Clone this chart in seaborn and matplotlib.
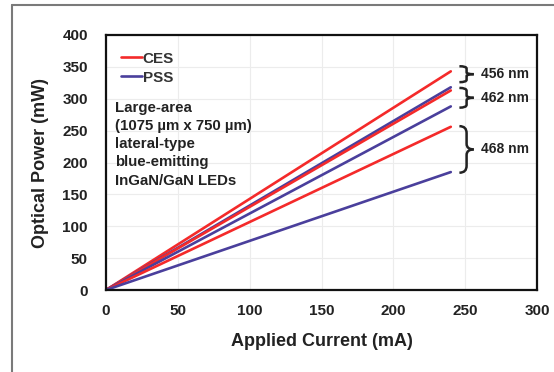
import numpy as np
import pandas as pd
import seaborn as sns
import matplotlib.pyplot as plt
from matplotlib.lines import Line2D
from matplotlib.path import Path
from matplotlib.patches import PathPatch

# ---- data ----
current = [0, 240]
series_names = ["CES 456", "PSS 456", "CES 462", "PSS 462", "CES 468", "PSS 468"]
substrate = ["CES", "PSS", "CES", "PSS", "CES", "PSS"]
power_end = [343, 318, 313, 288, 256, 185]
power_start = [0, 0, 0, 0, 0, 0]

wavelength_labels = ["456 nm", "462 nm", "468 nm"]
brace_top = [351, 317, 257]
brace_bot = [326, 286, 184]

x_ticks = [0, 50, 100, 150, 200, 250, 300]
y_ticks = [0, 50, 100, 150, 200, 250, 300, 350, 400]

rows = []
for name, sub, p0, p1 in zip(series_names, substrate, power_start, power_end):
    rows.append({"series": name, "substrate": sub, "current": current[0], "power": p0})
    rows.append({"series": name, "substrate": sub, "current": current[1], "power": p1})
df = pd.DataFrame(rows)

RED = "#f42a2a"
BLUE = "#4a3f9c"
palette = {n: (RED if s == "CES" else BLUE) for n, s in zip(series_names, substrate)}

sns.set_theme(style="white")
plt.rcParams['font.family'] = ['Liberation Sans', 'DejaVu Sans']
plt.rcParams['font.weight'] = 'bold'

fig = plt.figure(figsize=(5.54, 3.72), dpi=100)
ax = fig.add_axes([106/554, (372-290)/372, (537-106)/554, (290-35)/372])

sns.lineplot(data=df, x="current", y="power", hue="series", palette=palette,
             linewidth=1.9, legend=False, ax=ax, sort=False)

ax.set_xlim(0, 300)
ax.set_ylim(0, 400)
ax.set_xticks(x_ticks)
ax.set_yticks(y_ticks)
ax.set_xticklabels([str(t) for t in x_ticks], fontsize=11, fontweight='bold', color='#222222')
ax.set_yticklabels([str(t) for t in y_ticks], fontsize=11, fontweight='bold', color='#222222')
ax.tick_params(axis='x', length=0, pad=10)
ax.tick_params(axis='y', length=0, pad=13)
ax.grid(True, color='#ececec', linewidth=0.8)
for s in ax.spines.values():
    s.set_color('#111111')
    s.set_linewidth(1.6)

ax.set_xlabel("Applied Current (mA)", fontsize=13, fontweight='bold', color='#222222', labelpad=11)
ax.set_ylabel("Optical Power (mW)", fontsize=13, fontweight='bold', color='#222222', labelpad=10)

handles = [Line2D([0], [0], color=RED, lw=1.9), Line2D([0], [0], color=BLUE, lw=1.9)]
leg = ax.legend(handles, ["CES", "PSS"], loc='upper left', bbox_to_anchor=(-0.005, 1.0),
                frameon=False, fontsize=11, handlelength=1.4, handletextpad=0.05,
                labelspacing=0.32, borderaxespad=0.7)
for t in leg.get_texts():
    t.set_color('#333333')
    t.set_fontweight('bold')

ax.text(0.022, 0.742, "Large-area\n(1075 µm x 750 µm)\nlateral-type\nblue-emitting\nInGaN/GaN LEDs",
        transform=ax.transAxes, fontsize=10.8, fontweight='bold', color='#222222',
        va='top', ha='left', linespacing=1.38)

# braces
def brace(ax, x, y0, y1, w, color='#222222'):
    ym = (y0 + y1) / 2
    h = (y1 - y0)
    top = Path([(x, y1), (x + w*0.5, y1), (x + w*0.5, y1 - h*0.15),
                (x + w*0.5, ym + h*0.12), (x + w*0.5, ym), (x + w, ym)],
               [Path.MOVETO, Path.CURVE3, Path.CURVE3, Path.LINETO, Path.CURVE3, Path.CURVE3])
    bot = Path([(x, y0), (x + w*0.5, y0), (x + w*0.5, y0 + h*0.15),
                (x + w*0.5, ym - h*0.12), (x + w*0.5, ym), (x + w, ym)],
               [Path.MOVETO, Path.CURVE3, Path.CURVE3, Path.LINETO, Path.CURVE3, Path.CURVE3])
    for p in (top, bot):
        ax.add_patch(PathPatch(p, fill=False, edgecolor=color, lw=1.8, clip_on=False))
    return ym

for lab, yt, yb in zip(wavelength_labels, brace_top, brace_bot):
    ym = brace(ax, 246, yb, yt, 10)
    ax.text(261, ym, lab, fontsize=10, fontweight='bold', color='#222222',
            va='center', ha='left')

# outer frame lines
fig.add_artist(Line2D([12/554, 1.0], [1 - 5/372, 1 - 5/372], color='#7a7a7a', lw=1.5, transform=fig.transFigure))
fig.add_artist(Line2D([12/554, 12/554], [0, 1 - 5/372], color='#7a7a7a', lw=1.5, transform=fig.transFigure))

fig.savefig("out.png", dpi=100)
